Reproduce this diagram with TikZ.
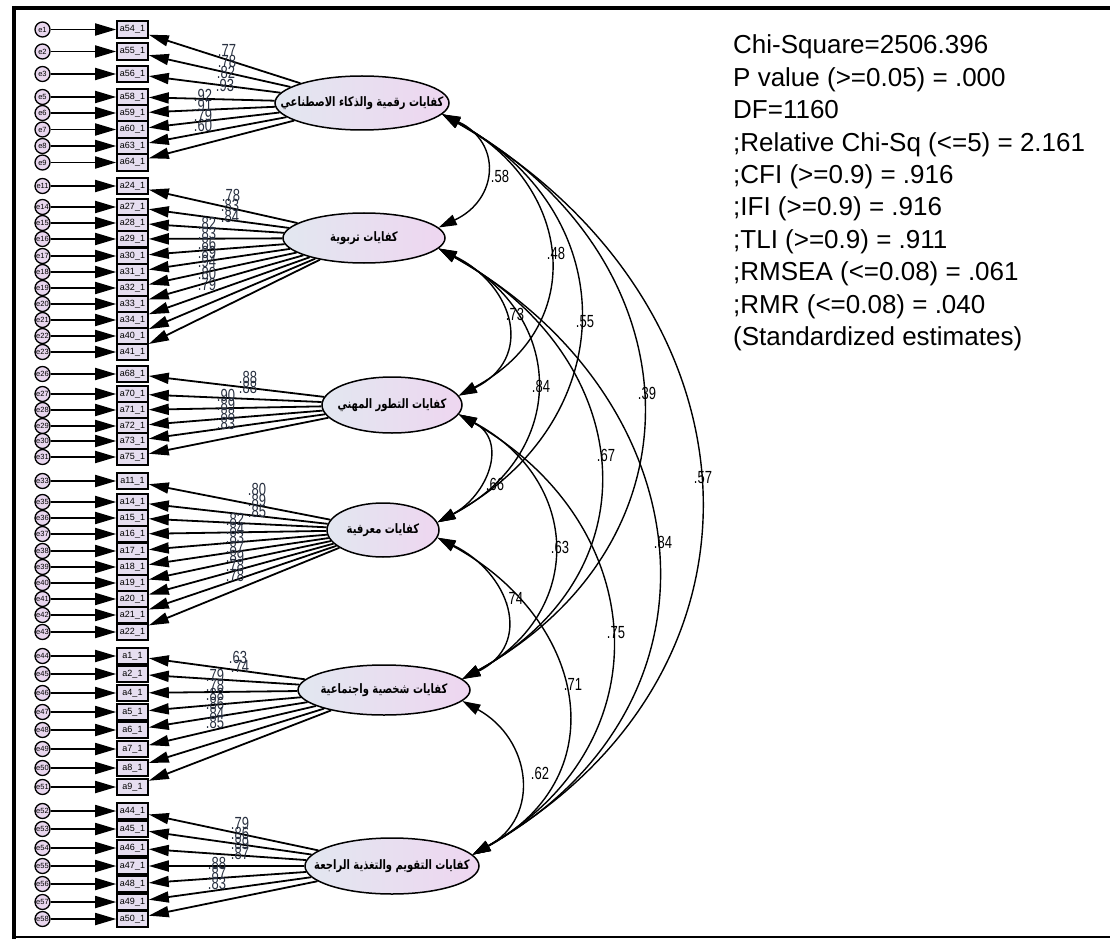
\documentclass[tikz,border=0pt]{standalone}
\usepackage{fontspec}
\setmainfont{Liberation Sans}
\newfontfamily\arabicfont[Script=Arabic]{DejaVu Sans}
\TeXXeTstate=1
\usetikzlibrary{shapes.geometric,arrows.meta}
\definecolor{errfill}{RGB}{232,214,238}
\definecolor{boxfill}{RGB}{230,222,240}
\definecolor{latL}{RGB}{226,231,240}
\definecolor{latR}{RGB}{238,214,240}
\definecolor{ldcol}{RGB}{40,48,64}
\newcommand{\tallnum}[1]{\scalebox{1}[1.35]{#1}}
\newcommand{\tallar}[1]{\scalebox{1}[1.3]{\beginR #1\endR}}
\tikzset{
 err/.style={circle, draw, line width=1.3pt, fill=errfill, minimum size=15pt, inner sep=0pt, font=\fontsize{7.5}{7.5}\selectfont},
 item/.style={rectangle, draw, line width=1.6pt, fill=boxfill, minimum width=31pt, minimum height=16.5pt, inner sep=0pt, font=\fontsize{9}{9}\selectfont},
 lat/.style={ellipse, draw, line width=1.5pt, left color=latL, right color=latR, inner sep=0pt},
 lattext/.style={inner sep=0pt, font=\arabicfont\bfseries\fontsize{10}{10}\selectfont},
 eline/.style={line width=1.8pt, -{Triangle[length=21pt,width=12pt]}},
 lline/.style={line width=1.8pt, -{Triangle[length=20pt,width=11pt]}},
 cov/.style={line width=1.4pt, {Triangle[length=18pt,width=11pt]}-{Triangle[length=18pt,width=11pt]}},
 ld/.style={font=\fontsize{13}{13}\selectfont, inner sep=0pt, text=ldcol},
 cl/.style={font=\fontsize{13}{13}\selectfont, inner sep=0pt},
 fit/.style={font=\fontsize{26}{26}\selectfont, inner sep=0pt, anchor=base west},
}
\begin{document}
\begin{tikzpicture}[x=1pt,y=-1pt]
\useasboundingbox (0,0) rectangle (1110,941);
% frame
\draw[line width=4pt] (14,8) -- (1110,8);
\draw[line width=4pt] (14,6) -- (14,939);
\draw[line width=1.5pt] (14,937) -- (1110,937);

% latent variables
\node[lat, minimum width=174pt, minimum height=54pt] (F1) at (362,103) {};
\node[lat, minimum width=162pt, minimum height=50pt] (F2) at (364,238) {};
\node[lat, minimum width=140pt, minimum height=56pt] (F3) at (392,405) {};
\node[lat, minimum width=112pt, minimum height=54pt] (F4) at (383,530) {};
\node[lat, minimum width=172pt, minimum height=50pt] (F5) at (384,690) {};
\node[lat, minimum width=174pt, minimum height=56pt] (F6) at (392,866) {};
\node[lattext] (t1) at (F1) {\tallar{كفايات رقمية والذكاء الاصطناعي}};
\node[lattext] (t2) at (F2) {\tallar{كفايات تربوية}};
\node[lattext] (t3) at (F3) {\tallar{كفايات التطور المهني}};
\node[lattext] (t4) at (F4) {\tallar{كفايات معرفية}};
\node[lattext] (t5) at (F5) {\tallar{كفايات شخصية واجتماعية}};
\node[lattext] (t6) at (F6) {\tallar{كفايات التقويم والتغذية الراجعة}};

% items and errors
\foreach \n/\elab/\ilab/\y in {
 1/e1/a54/29.5, 2/e2/a55/51.5, 3/e3/a56/74, 4/e5/a58/97, 5/e6/a59/113, 6/e7/a60/129.5, 7/e8/a63/146, 8/e9/a64/162.5,
 9/e11/a24/186, 10/e14/a27/207, 11/e15/a28/223, 12/e16/a29/239, 13/e17/a30/256, 14/e18/a31/272, 15/e19/a32/288, 16/e20/a33/304, 17/e21/a34/320, 18/e22/a40/336, 19/e23/a41/352,
 20/e26/a68/374, 21/e27/a70/394, 22/e28/a71/410, 23/e29/a72/426, 24/e30/a73/441, 25/e31/a75/457,
 26/e33/a11/481, 27/e35/a14/502, 28/e36/a15/518, 29/e37/a16/534, 30/e38/a17/551, 31/e39/a18/567, 32/e40/a19/583, 33/e41/a20/599, 34/e42/a21/615, 35/e43/a22/632,
 36/e44/a1/656, 37/e45/a2/674, 38/e46/a4/693, 39/e47/a5/712, 40/e48/a6/730, 41/e49/a7/749, 42/e50/a8/768, 43/e51/a9/787,
 44/e52/a44/811, 45/e53/a45/829, 46/e54/a46/848, 47/e55/a47/866, 48/e56/a48/884, 49/e57/a49/902, 50/e58/a50/919}{
 \node[item] (i\n) at (132.5,\y) {\ilab\_1};
 \node[err] (err\n) at (42.5,\y) {\elab};
 \draw[eline] (err\n) -- (i\n);
}

% loadings
\foreach \n in {1,...,8} \draw[lline] (F1) -- (i\n);
\foreach \n in {9,...,19} \draw[lline] (F2) -- (i\n);
\foreach \n in {20,...,25} \draw[lline] (F3) -- (i\n);
\foreach \n in {26,...,35} \draw[lline] (F4) -- (i\n);
\foreach \n in {36,...,43} \draw[lline] (F5) -- (i\n);
\foreach \n in {44,...,50} \draw[lline] (F6) -- (i\n);

% loading labels
\foreach \k/\x/\y/\v in {
 1/227/50/.77, 2/227/61/.78, 3/226/72/.82, 4/225/85/.93, 5/203/95/.92, 6/203/105/.91, 7/203/115/.79, 8/203/125/.60,
 9/231/195/.78, 10/230/205/.83, 11/230/216/.84, 12/207/223/.82, 13/207/233/.83, 14/207/243/.86, 15/207/252/.89, 16/207/261/.94, 17/207/273/.80, 18/207/284/.79,
 20/248/377/.88, 21/248/387/.88, 22/226/395/.90, 23/226/404/.89, 24/226/414/.88, 25/226/423/.83,
 26/257/489/.80, 27/257/500/.89, 28/257/511/.85, 29/235/519/.82, 30/235/528/.84, 31/235/537/.83, 32/235/547/.87, 33/235/556/.89, 34/235/565/.78, 35/235/575/.78,
 36/238/657/.63, 37/240/666/.74, 38/215/675/.79, 39/215/685/.78, 40/215/694/.88, 41/215/703/.86, 42/215/713/.84, 43/215/722/.85,
 44/240/823/.79, 45/240/833/.86, 46/240/843/.89, 47/240/853/.87, 48/217/863/.88, 49/217/873/.87, 50/217/883/.83}{
 \node[ld] (l\k) at (\x,\y) {\tallnum{\v}};
}

% covariances
\draw[cov] (F1.-8) .. controls +(60,28) and +(60,-28) .. (F2.8);
\draw[cov] (F1.-8) .. controls +(131,70) and +(131,-70) .. (F3.8);
\draw[cov] (F1.-8) .. controls +(185,100) and +(185,-100) .. (F4.8);
\draw[cov] (F1.-8) .. controls +(252,140) and +(252,-140) .. (F5.8);
\draw[cov] (F1.-8) .. controls +(322,185) and +(322,-185) .. (F6.8);
\draw[cov] (F2.-8) .. controls +(76,37) and +(76,-37) .. (F3.8);
\draw[cov] (F2.-8) .. controls +(130,68) and +(130,-68) .. (F4.8);
\draw[cov] (F2.-8) .. controls +(197,108) and +(197,-108) .. (F5.8);
\draw[cov] (F2.-8) .. controls +(267,150) and +(267,-150) .. (F6.8);
\draw[cov] (F3.-8) .. controls +(50,27) and +(50,-27) .. (F4.8);
\draw[cov] (F3.-8) .. controls +(123,66) and +(123,-66) .. (F5.8);
\draw[cov] (F3.-8) .. controls +(193,110) and +(193,-110) .. (F6.8);
\draw[cov] (F4.-8) .. controls +(72,35) and +(72,-35) .. (F5.8);
\draw[cov] (F4.-8) .. controls +(147,80) and +(147,-80) .. (F6.8);
\draw[cov] (F5.-8) .. controls +(69,38) and +(69,-38) .. (F6.8);

% covariance labels
\node[cl] (c12) at (500,176) {\tallnum{.58}};
\node[cl] (c13) at (556,253) {\tallnum{.48}};
\node[cl] (c14) at (585,322) {\tallnum{.55}};
\node[cl] (c15) at (647,393) {\tallnum{.39}};
\node[cl] (c16) at (703,478) {\tallnum{.57}};
\node[cl] (c23) at (515,314) {\tallnum{.73}};
\node[cl] (c24) at (541,386) {\tallnum{.84}};
\node[cl] (c25) at (606,455) {\tallnum{.67}};
\node[cl] (c26) at (663,542) {\tallnum{.84}};
\node[cl] (c34) at (495,484) {\tallnum{.66}};
\node[cl] (c35) at (560,547) {\tallnum{.63}};
\node[cl] (c36) at (616,633) {\tallnum{.75}};
\node[cl] (c45) at (514,598) {\tallnum{.74}};
\node[cl] (c46) at (573,684) {\tallnum{.71}};
\node[cl] (c56) at (540,773) {\tallnum{.62}};

% fit statistics
\node[fit] (s1) at (733,54) {Chi-Square=2506.396};
\node[fit] (s2) at (733,86.4) {P value (>=0.05) = .000};
\node[fit] (s3) at (733,118.8) {DF=1160};
\node[fit] (s4) at (733,151.2) {;Relative Chi-Sq (<=5) = 2.161};
\node[fit] (s5) at (733,183.6) {;CFI (>=0.9) = .916};
\node[fit] (s6) at (733,216) {;IFI (>=0.9) = .916};
\node[fit] (s7) at (733,248.4) {;TLI (>=0.9) = .911};
\node[fit] (s8) at (733,280.8) {;RMSEA (<=0.08) = .061};
\node[fit] (s9) at (733,313.2) {;RMR (<=0.08) = .040};
\node[fit] (s10) at (733,345.6) {(Standardized estimates)};
\end{tikzpicture}
\end{document}
